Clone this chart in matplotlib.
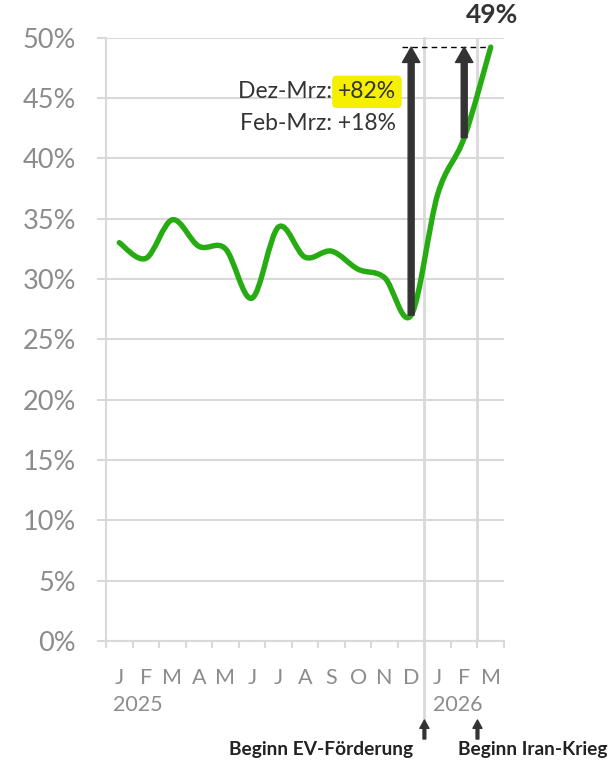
import numpy as np
import matplotlib.pyplot as plt
from matplotlib.path import Path
from matplotlib.patches import PathPatch, FancyArrowPatch
from matplotlib.transforms import blended_transform_factory

plt.rcParams['font.family'] = ['Lato', 'DejaVu Sans']

# Monthly share (%), Jan 2025 - Mar 2026
months = ['J', 'F', 'M', 'A', 'M', 'J', 'J', 'A', 'S', 'O', 'N', 'D', 'J', 'F', 'M']
years = ['2025', '2026']
share = [33.0, 31.7, 34.9, 32.7, 32.5, 28.4, 34.3, 31.8, 32.3, 30.8, 30.1, 27.0, 37.0, 41.7, 49.2]
y_ticks = [0, 5, 10, 15, 20, 25, 30, 35, 40, 45, 50]

grid_col = '#d9d9d9'
label_col = '#8c8c8c'
dark = '#333333'
green = '#27ab12'

W, H = 613, 763
fig = plt.figure(figsize=(W / 100, H / 100), dpi=100)
ax = fig.add_axes([106 / W, 1 - 641 / H, 398 / W, 603.5 / H])

x = np.arange(len(share))
ax.set_xlim(-0.5, len(share) - 0.5)
ax.set_ylim(0, 50)

# grid + axes styling
ax.set_yticks(y_ticks)
ax.set_yticklabels([f'{v}%' for v in y_ticks], fontsize=19.5, color=label_col)
ax.yaxis.grid(True, color=grid_col, lw=1.5)
ax.set_axisbelow(True)
ax.tick_params(axis='y', length=6.5, width=1.5, color=grid_col, pad=15)
ax.set_xticks(np.arange(-0.5, len(share), 1))
ax.set_xticklabels([])
ax.tick_params(axis='x', length=5, width=1.5, color=grid_col)
for s in ['top', 'right']:
    ax.spines[s].set_visible(False)
for s in ['left', 'bottom']:
    ax.spines[s].set_color(grid_col)
    ax.spines[s].set_linewidth(1.5)

trans = blended_transform_factory(ax.transData, ax.transAxes)
ax.plot([11.5, 11.5], [1, -0.136], color=grid_col, lw=2, transform=trans, clip_on=False, zorder=0)
ax.axvline(13.5, color=grid_col, lw=2, zorder=0)

for i, m in enumerate(months):
    ax.text(i, -0.061, m, transform=trans, ha='center', va='center', fontsize=15.5, color=label_col)
ax.text(-0.25, -0.106, years[0], transform=trans, ha='left', va='center', fontsize=15.5, color=label_col)
ax.text(11.82, -0.106, years[1], transform=trans, ha='left', va='center', fontsize=15.5, color=label_col)

# smoothed line (Bezier, like Excel's smoothing)
pts = np.column_stack([x, share])
n = len(pts)
verts = [pts[0]]
codes = [Path.MOVETO]
for i in range(n - 1):
    p0 = pts[max(i - 1, 0)]
    p1 = pts[i]
    p2 = pts[i + 1]
    p3 = pts[min(i + 2, n - 1)]
    verts += [p1 + (p2 - p0) / 6, p2 - (p3 - p1) / 6, p2]
    codes += [Path.CURVE4] * 3
ax.add_patch(PathPatch(Path(verts, codes), fill=False, edgecolor=green, lw=3.9,
                       capstyle='round', joinstyle='round', zorder=3))

# arrows showing the increase
style = 'simple,head_width=12.5,head_length=11,tail_width=4.3'
for xi in [11, 13]:
    ax.add_patch(FancyArrowPatch((xi, share[xi]), (xi, share[-1]), arrowstyle=style,
                                 color=dark, shrinkA=0, shrinkB=0, mutation_scale=1, zorder=4))
ax.plot([10.65, 14.0], [share[-1], share[-1]], color='black', lw=1, dashes=(4, 3), zorder=2)

ax.text(14.05, 50.85, '49%', ha='center', va='bottom', fontsize=19, fontweight='bold',
        color=dark, clip_on=False)

t82 = ax.text(10.43, 45.5, '+82%', ha='right', va='center', fontsize=16.5, color=dark,
              bbox=dict(boxstyle='round,pad=0.25,rounding_size=0.2', fc='#f5f000', ec='none'))
ax.annotate('Dez-Mrz: ', xy=(0, 0.5), xycoords=t82, ha='right', va='center',
            fontsize=16.5, color=dark)
ax.text(10.43, 42.9, 'Feb-Mrz: +18%', ha='right', va='center', fontsize=16.5, color=dark)

# bottom event markers
ftrans = blended_transform_factory(ax.transData, fig.transFigure)
for xe in [11.5, 13.5]:
    ax.add_patch(FancyArrowPatch((xe, 1 - 739 / H), (xe, 1 - 720 / H), transform=ftrans,
                                 arrowstyle='simple,head_width=6.5,head_length=6,tail_width=2',
                                 color=dark, mutation_scale=1, shrinkA=0, shrinkB=0, clip_on=False))
ax.text(11.08, 1 - 750 / H, 'Beginn EV-Förderung', transform=ftrans, ha='right', va='center',
        fontsize=13.8, fontweight='bold', color='#222222')
ax.text(12.78, 1 - 750 / H, 'Beginn Iran-Krieg', transform=ftrans, ha='left', va='center',
        fontsize=13.8, fontweight='bold', color='#222222')

fig.savefig('out.png', dpi=100)
